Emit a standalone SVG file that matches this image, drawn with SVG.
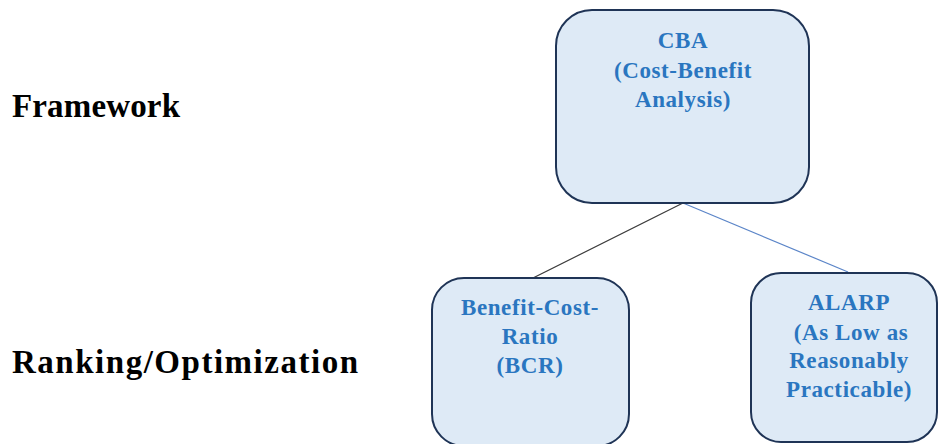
<svg xmlns="http://www.w3.org/2000/svg" width="939" height="444" viewBox="0 0 939 444">
  <style>
    .box { fill: #deeaf6; stroke: #1f3456; stroke-width: 2; }
    .lbl { font-family: "Liberation Serif", "Times New Roman", serif; font-weight: bold; font-size: 23px; fill: #2a76c0; text-anchor: middle; letter-spacing: 0.6px; }
    .side { font-family: "Liberation Serif", "Times New Roman", serif; font-weight: bold; font-size: 33px; fill: #000; }
  </style>
  <rect width="939" height="444" fill="#ffffff"/>

  <!-- row titles -->
  <g id="row-labels">
    <text class="side" x="12" y="117" textLength="168" lengthAdjust="spacing">Framework</text>
    <text class="side" x="12" y="373" textLength="346" lengthAdjust="spacing">Ranking/Optimization</text>
  </g>

  <!-- connectors -->
  <g id="connectors">
    <line x1="683" y1="203" x2="533" y2="278" stroke="#3a3a3a" stroke-width="1.2"/>
    <line x1="683" y1="203" x2="848" y2="272" stroke="#5b85c8" stroke-width="1.2"/>
  </g>

  <g id="node-cba">
    <rect class="box" x="556" y="10" width="253" height="193" rx="36"/>
    <text class="lbl" x="683" y="48">CBA</text>
    <text class="lbl" x="683" y="78">(Cost-Benefit</text>
    <text class="lbl" x="683" y="107">Analysis)</text>
  </g>

  <g id="node-bcr">
    <rect class="box" x="432" y="278" width="197" height="168" rx="32"/>
    <text class="lbl" x="530" y="315">Benefit-Cost-</text>
    <text class="lbl" x="530" y="344">Ratio</text>
    <text class="lbl" x="530" y="373">(BCR)</text>
  </g>

  <g id="node-alarp">
    <rect class="box" x="751" y="273" width="186" height="169" rx="30"/>
    <text class="lbl" x="849" y="310">ALARP</text>
    <text class="lbl" x="851" y="340">(As Low as</text>
    <text class="lbl" x="849" y="368">Reasonably</text>
    <text class="lbl" x="849" y="397">Practicable)</text>
  </g>
</svg>
